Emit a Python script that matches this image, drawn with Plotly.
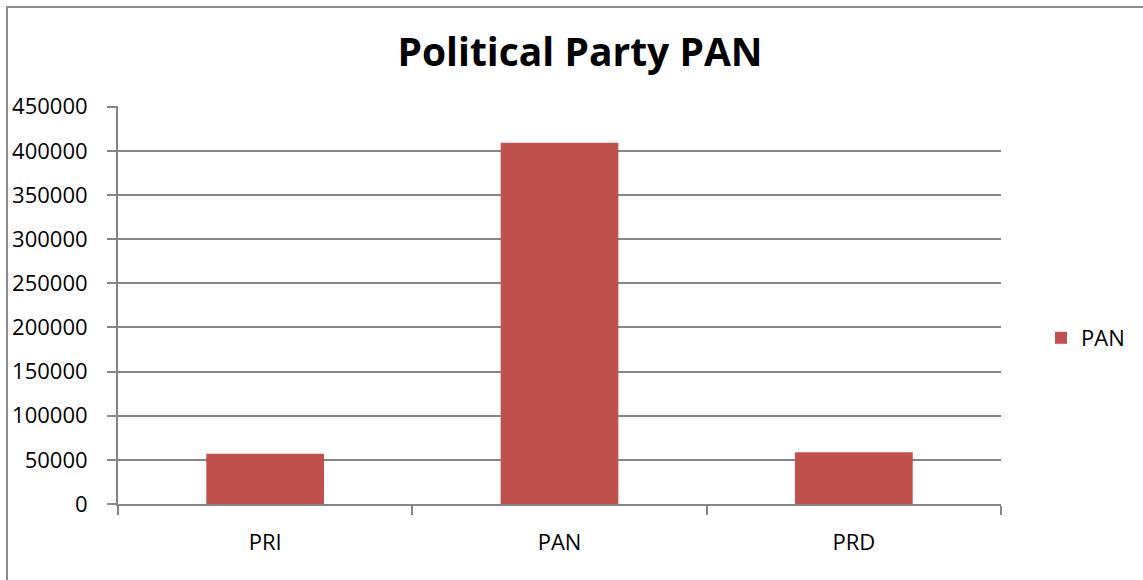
import plotly.graph_objects as go

categories = ["PRI", "PAN", "PRD"]
pan_values = [56800, 409300, 58700]
series_name = "PAN"
title_text = "Political Party PAN"

W, H = 1143, 580
ML, MR, MT, MB = 118, 142, 106, 76
pw, ph = W - ML - MR, H - MT - MB

def px_x(x):
    return (x - ML) / pw

def px_y(y):
    return (H - MB - y) / ph

fig = go.Figure()
fig.add_trace(go.Bar(
    x=categories, y=pan_values, name=series_name,
    marker=dict(color="#C0504D", line=dict(width=0)),
    showlegend=True,
))

grid = "#868686"
fig.update_layout(
    width=W, height=H,
    margin=dict(l=ML, r=MR, t=MT, b=MB, autoexpand=False),
    paper_bgcolor="white", plot_bgcolor="white",
    font=dict(family="Open Sans", size=22, color="black"),
    bargap=0.6,
    title=dict(text="<b>" + title_text + "</b>", x=px_x(580), xref="paper",
               xanchor="center", y=1 - 52 / H, yanchor="middle",
               font=dict(family="Open Sans", size=39, color="black")),
    xaxis=dict(showline=True, linecolor=grid, linewidth=2, ticks="outside",
               tickson="boundaries", ticklen=9, tickcolor=grid, tickwidth=2,
               showgrid=False, ticklabelstandoff=18,
               tickfont=dict(size=22)),
    yaxis=dict(range=[0, 450000 * 1.002], dtick=50000, tick0=0, showline=True,
               linecolor=grid, linewidth=2, ticks="outside", ticklen=9,
               tickcolor=grid, tickwidth=2, showgrid=True, gridcolor=grid,
               gridwidth=2, zeroline=False, ticklabelstandoff=15,
               tickformat="d", tickfont=dict(size=22)),
    legend=dict(x=px_x(1041), y=px_y(338), xanchor="left", yanchor="middle",
                font=dict(size=22), bgcolor="rgba(0,0,0,0)", itemwidth=30),
    shapes=[dict(type="rect", xref="paper", yref="paper",
                 x0=px_x(7), x1=px_x(1160), y0=px_y(7), y1=px_y(600),
                 line=dict(color="#8C8C8C", width=2), layer="above")],
)

fig.write_html("out.html")
